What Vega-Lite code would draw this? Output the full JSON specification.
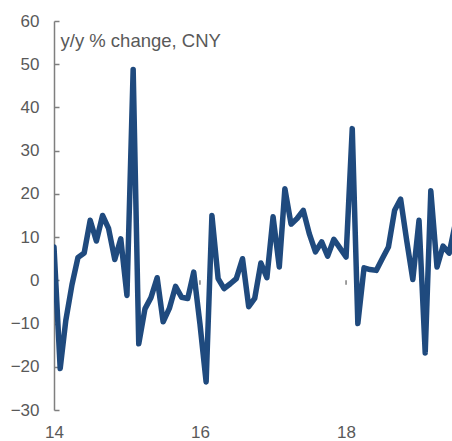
{
  "$schema": "https://vega.github.io/schema/vega-lite/v6.json",
  "width": 398,
  "height": 389,
  "autosize": {"type": "none"},
  "padding": {"left": 54, "top": 21, "right": 0, "bottom": 31},
  "background": "white",
  "config": {"view": {"stroke": null}, "font": "Liberation Sans"},
  "datasets": {
    "series": [
      {"date": "2014/01/01", "value": 7.7},
      {"date": "2014/02/01", "value": -20.4},
      {"date": "2014/03/01", "value": -9.3},
      {"date": "2014/04/01", "value": -1},
      {"date": "2014/05/01", "value": 5.3},
      {"date": "2014/06/01", "value": 6.3},
      {"date": "2014/07/01", "value": 13.9},
      {"date": "2014/08/01", "value": 9.1},
      {"date": "2014/09/01", "value": 15},
      {"date": "2014/10/01", "value": 12},
      {"date": "2014/11/01", "value": 4.8},
      {"date": "2014/12/01", "value": 9.6},
      {"date": "2015/01/01", "value": -3.5},
      {"date": "2015/02/01", "value": 48.8},
      {"date": "2015/03/01", "value": -14.7},
      {"date": "2015/04/01", "value": -6.6},
      {"date": "2015/05/01", "value": -4},
      {"date": "2015/06/01", "value": 0.6},
      {"date": "2015/07/01", "value": -9.6},
      {"date": "2015/08/01", "value": -6.5},
      {"date": "2015/09/01", "value": -1.4},
      {"date": "2015/10/01", "value": -3.9},
      {"date": "2015/11/01", "value": -4.2},
      {"date": "2015/12/01", "value": 1.9},
      {"date": "2016/01/01", "value": -10},
      {"date": "2016/02/01", "value": -23.5},
      {"date": "2016/03/01", "value": 15},
      {"date": "2016/04/01", "value": 0.4},
      {"date": "2016/05/01", "value": -1.9},
      {"date": "2016/06/01", "value": -0.8},
      {"date": "2016/07/01", "value": 0.4},
      {"date": "2016/08/01", "value": 5},
      {"date": "2016/09/01", "value": -6.1},
      {"date": "2016/10/01", "value": -4.2},
      {"date": "2016/11/01", "value": 4},
      {"date": "2016/12/01", "value": 0.6},
      {"date": "2017/01/01", "value": 14.7},
      {"date": "2017/02/01", "value": 3.1},
      {"date": "2017/03/01", "value": 21.2},
      {"date": "2017/04/01", "value": 13},
      {"date": "2017/05/01", "value": 14.3},
      {"date": "2017/06/01", "value": 16.2},
      {"date": "2017/07/01", "value": 10.8},
      {"date": "2017/08/01", "value": 6.6},
      {"date": "2017/09/01", "value": 8.9},
      {"date": "2017/10/01", "value": 5.6},
      {"date": "2017/11/01", "value": 9.5},
      {"date": "2017/12/01", "value": 7.5},
      {"date": "2018/01/01", "value": 5.4},
      {"date": "2018/02/01", "value": 35.1},
      {"date": "2018/03/01", "value": -10},
      {"date": "2018/04/01", "value": 2.9},
      {"date": "2018/05/01", "value": 2.5},
      {"date": "2018/06/01", "value": 2.3},
      {"date": "2018/07/01", "value": 5},
      {"date": "2018/08/01", "value": 7.7},
      {"date": "2018/09/01", "value": 16.2},
      {"date": "2018/10/01", "value": 18.8},
      {"date": "2018/11/01", "value": 9},
      {"date": "2018/12/01", "value": 0.2},
      {"date": "2019/01/01", "value": 13.9},
      {"date": "2019/02/01", "value": -16.8},
      {"date": "2019/03/01", "value": 20.7},
      {"date": "2019/04/01", "value": 3.1},
      {"date": "2019/05/01", "value": 7.9},
      {"date": "2019/06/01", "value": 6.3},
      {"date": "2019/07/01", "value": 13}
    ],
    "ticks": [
      {"date": "2016/01/01"},
      {"date": "2018/01/01"}
    ]
  },
  "layer": [
    {
      "mark": {"type": "rule", "color": "#7f7f7f", "strokeWidth": 1.5},
      "encoding": {"y": {"datum": 0, "type": "quantitative"}}
    },
    {
      "data": {"name": "ticks"},
      "mark": {"type": "rule", "color": "#7f7f7f", "strokeWidth": 1.5},
      "encoding": {
        "x": {"field": "date", "type": "temporal"},
        "y": {"datum": 0, "type": "quantitative"},
        "y2": {"datum": -1}
      }
    },
    {
      "data": {"name": "series"},
      "mark": {"type": "line", "color": "#1f4a7e", "strokeWidth": 5.5, "strokeCap": "round", "strokeJoin": "round", "clip": true},
      "encoding": {
        "x": {
          "field": "date",
          "type": "temporal",
          "scale": {"domain": [{"year": 2014, "month": 1, "date": 1}, {"year": 2019, "month": 6, "date": 15}]},
          "axis": {
            "title": null,
            "format": "%y",
            "values": [{"year": 2014, "month": 1, "date": 1}, {"year": 2016, "month": 1, "date": 1}, {"year": 2018, "month": 1, "date": 1}],
            "domain": false,
            "ticks": false,
            "grid": false,
            "labelPadding": 14,
            "labelFontSize": 17,
            "labelColor": "#595959",
            "labelFlush": false,
            "labelOverlap": false
          }
        },
        "y": {
          "field": "value",
          "type": "quantitative",
          "scale": {"domain": [-30, 60], "nice": false, "zero": false},
          "axis": {
            "title": "y/y % change, CNY",
            "titleAngle": 0,
            "titleAlign": "left",
            "titleBaseline": "alphabetic",
            "titleX": 6,
            "titleY": 25,
            "titleFontSize": 18.5,
            "titleFontWeight": "normal",
            "titleColor": "#595959",
            "values": [-30, -20, -10, 0, 10, 20, 30, 40, 50, 60],
            "grid": false,
            "domainColor": "#7f7f7f",
            "domainWidth": 1.5,
            "tickColor": "#7f7f7f",
            "tickWidth": 1.5,
            "tickSize": -5,
            "labelPadding": 20,
            "labelFontSize": 17,
            "labelColor": "#595959"
          }
        }
      }
    }
  ]
}
